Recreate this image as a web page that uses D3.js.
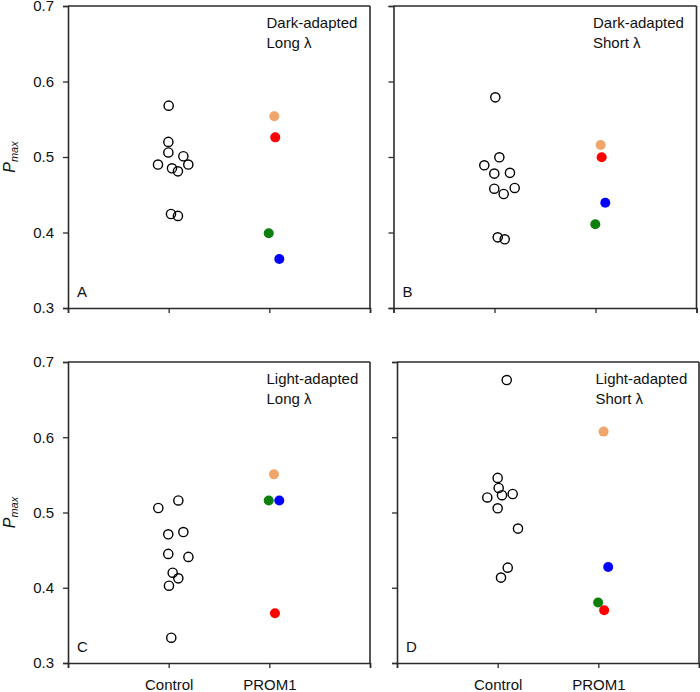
<!DOCTYPE html>
<html>
<head>
<meta charset="utf-8">
<script src="https://cdn.jsdelivr.net/npm/d3@7"></script>
<style>
  html, body { margin: 0; padding: 0; background: #fff; }
  svg { display: block; font-family: "Liberation Sans", Arial, sans-serif; }
</style>
</head>
<body>
<svg id="chart" width="700" height="692"></svg>
<script>
// ---------------- data ----------------
const categories = ["Control", "PROM1"];
const yTicks = [0.3, 0.4, 0.5, 0.6, 0.7];
const panelLetters = ["A", "B", "C", "D"];
const conditionLine1 = ["Dark-adapted", "Dark-adapted", "Light-adapted", "Light-adapted"];
const conditionLine2 = ["Long \u03bb", "Short \u03bb", "Long \u03bb", "Short \u03bb"];

// Control (open circles): values and horizontal (jittered) category positions
const controlA  = [0.568, 0.520, 0.506, 0.490, 0.501, 0.490, 0.485, 0.481, 0.4245, 0.422];
const controlAx = [1.000, 0.997, 0.997, 0.894, 1.146, 1.195, 1.033, 1.092, 1.023, 1.092];
const controlB  = [0.579, 0.4996, 0.489, 0.478, 0.479, 0.458, 0.451, 0.459, 0.3936, 0.391];
const controlBx = [1.008, 1.048, 0.899, 0.998, 1.153, 0.998, 1.091, 1.200, 1.032, 1.101];
const controlC  = [0.506, 0.516, 0.471, 0.474, 0.445, 0.441, 0.420, 0.4125, 0.4027, 0.3336];
const controlCx = [0.897, 1.096, 0.996, 1.146, 0.996, 1.196, 1.040, 1.096, 1.003, 1.026];
const controlD  = [0.676, 0.546, 0.5326, 0.520, 0.523, 0.5246, 0.5056, 0.4786, 0.4267, 0.4135];
const controlDx = [1.090, 1.000, 1.010, 0.897, 1.043, 1.149, 1.000, 1.202, 1.100, 1.033];

// PROM1 patients (filled circles), order: peach, red, green, blue
const prom1Colors = ["#f0a66a", "#ff0000", "#0c7f0c", "#0000ff"];
const prom1A  = [0.554, 0.526, 0.399, 0.365];
const prom1Ax = [2.049, 2.059, 1.994, 2.099];
const prom1B  = [0.516, 0.4996, 0.411, 0.4395];
const prom1Bx = [2.051, 2.061, 1.998, 2.097];
const prom1C  = [0.5507, 0.366, 0.516, 0.516];
const prom1Cx = [2.046, 2.056, 1.994, 2.099];
const prom1D  = [0.6075, 0.370, 0.3803, 0.4276];
const prom1Dx = [2.052, 2.058, 1.998, 2.098];

const controls  = [controlA, controlB, controlC, controlD];
const controlsX = [controlAx, controlBx, controlCx, controlDx];
const prom1s    = [prom1A, prom1B, prom1C, prom1D];
const prom1sX   = [prom1Ax, prom1Bx, prom1Cx, prom1Dx];

// ---------------- layout ----------------
const boxes = [
  { left: 68,    right: 370,   top: 6,   bottom: 308, row: 0, col: 0 },
  { left: 393.5, right: 696.5, top: 6,   bottom: 308, row: 0, col: 1 },
  { left: 68,    right: 370,   top: 362, bottom: 663, row: 1, col: 0 },
  { left: 397,   right: 699,   top: 362, bottom: 663, row: 1, col: 1 }
];
const axisColor = "#2b2b2b";
const fontSize = 15;
const drawOrder = [2, 3, 0, 1]; // green, blue, peach, red (red on top)

const svg = d3.select("#chart");

boxes.forEach((b, i) => {
  const x = d3.scaleLinear().domain([0, 3]).range([b.left, b.right]);
  const y = d3.scaleLinear().domain([0.3, 0.7]).range([b.bottom, b.top]);
  const g = svg.append("g");

  // frame (top and right)
  g.append("line").attr("x1", b.left).attr("x2", b.right).attr("y1", b.top).attr("y2", b.top)
    .attr("stroke", axisColor).attr("stroke-width", 1.6);
  g.append("line").attr("x1", b.right).attr("x2", b.right).attr("y1", b.top).attr("y2", b.bottom)
    .attr("stroke", axisColor).attr("stroke-width", 1.6);

  // y axis
  const yAxis = d3.axisLeft(y).tickValues(yTicks).tickSize(5).tickPadding(9)
    .tickFormat(b.col === 0 ? d3.format(".1f") : () => "");
  const gy = g.append("g").attr("transform", `translate(${b.left},0)`).call(yAxis);
  gy.select(".domain").attr("stroke", axisColor).attr("stroke-width", 1.6);
  gy.selectAll(".tick line").attr("stroke", axisColor).attr("stroke-width", 1.3);
  gy.selectAll(".tick text").attr("font-size", fontSize).attr("fill", "#111")
    .attr("font-family", "Liberation Sans, Arial, sans-serif");

  // x axis
  const xAxis = d3.axisBottom(x).tickValues([0, 1, 2, 3]).tickSize(5).tickPadding(11)
    .tickFormat(d => (b.row === 1 && d >= 1 && d <= 2) ? categories[d - 1] : "");
  const gx = g.append("g").attr("transform", `translate(0,${b.bottom})`).call(xAxis);
  gx.select(".domain").attr("stroke", axisColor).attr("stroke-width", 1.6);
  gx.selectAll(".tick line").attr("stroke", axisColor).attr("stroke-width", 1.3);
  gx.selectAll(".tick text").attr("font-size", fontSize).attr("fill", "#111")
    .attr("font-family", "Liberation Sans, Arial, sans-serif");

  // y label
  if (b.col === 0) {
    const cy = (b.top + b.bottom) / 2;
    const t = g.append("text")
      .attr("transform", `translate(15,${cy}) rotate(-90)`)
      .attr("text-anchor", "middle")
      .attr("font-size", 16).attr("fill", "#111").attr("font-style", "italic");
    t.append("tspan").text("P");
    t.append("tspan").attr("font-size", 11).attr("dy", 3).text("max");
  }

  // panel letter
  g.append("text").attr("x", b.left + 9).attr("y", b.bottom - 11)
    .attr("font-size", fontSize).attr("fill", "#111").text(panelLetters[i]);

  // condition annotation
  g.append("text").attr("x", b.right - 103.5).attr("y", b.top + 22)
    .attr("font-size", fontSize).attr("fill", "#111").text(conditionLine1[i]);
  g.append("text").attr("x", b.right - 103.5).attr("y", b.top + 42)
    .attr("font-size", fontSize).attr("fill", "#111").text(conditionLine2[i]);

  // control points
  const cData = controls[i].map((v, k) => ({ v, p: controlsX[i][k] }));
  g.selectAll("circle.ctrl").data(cData).enter().append("circle")
    .attr("class", "ctrl")
    .attr("cx", d => x(d.p)).attr("cy", d => y(d.v)).attr("r", 4.6)
    .attr("fill", "none").attr("stroke", "#000").attr("stroke-width", 1.4);

  // PROM1 points
  const pData = drawOrder.map(k => ({ v: prom1s[i][k], p: prom1sX[i][k], c: prom1Colors[k] }));
  g.selectAll("circle.prom").data(pData).enter().append("circle")
    .attr("class", "prom")
    .attr("cx", d => x(d.p)).attr("cy", d => y(d.v)).attr("r", 5)
    .attr("fill", d => d.c);
});
</script>
</body>
</html>
